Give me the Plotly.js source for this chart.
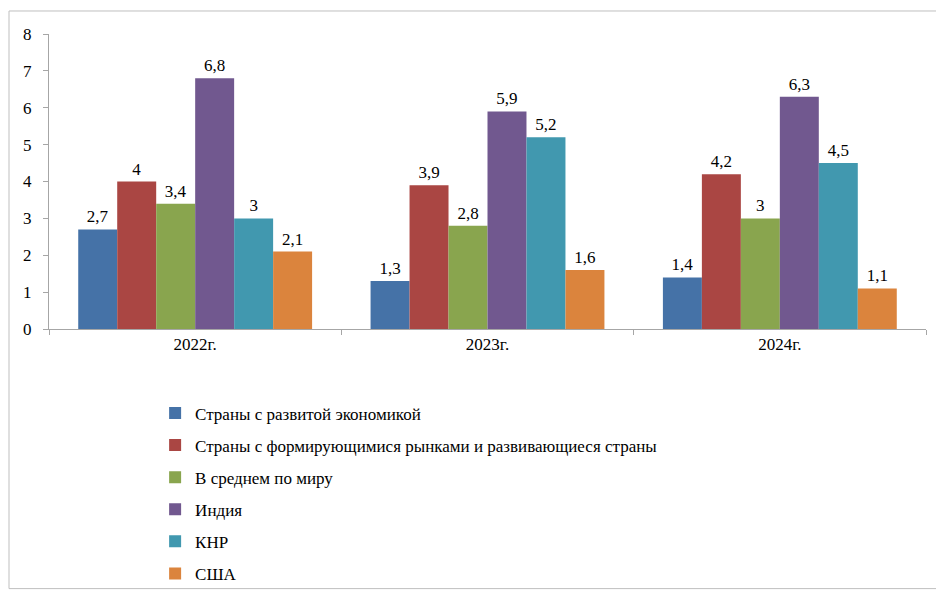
<!DOCTYPE html>
<html><head><meta charset="utf-8">
<script src="https://cdn.plot.ly/plotly-3.0.1.min.js"></script>
<style>html,body{margin:0;padding:0;background:#fff;}#chart{width:936px;height:591px;}</style>
</head><body><div id="chart"></div>
<script>
const categories = ["2022г.", "2023г.", "2024г."];
const seriesNames = [
  "Страны с развитой экономикой",
  "Страны с формирующимися рынками и развивающиеся страны",
  "В среднем по миру",
  "Индия",
  "КНР",
  "США"
];
const developed = [2.7, 1.3, 1.4];
const emerging = [4.0, 3.9, 4.2];
const world = [3.4, 2.8, 3.0];
const india = [6.8, 5.9, 6.3];
const china = [3.0, 5.2, 4.5];
const usa = [2.1, 1.6, 1.1];
const colors = ["#4572A7", "#AA4643", "#89A54E", "#71588F", "#4198AF", "#DB843D"];

const values = [developed, emerging, world, india, china, usa];
const font = "Liberation Serif";

const traces = values.map((v, i) => ({
  type: "bar",
  name: seriesNames[i],
  x: categories,
  y: v,
  marker: {color: colors[i]},
  text: v.map(n => String(n).replace(".", ",")),
  texttemplate: "%{text}",
  textposition: "outside",
  textfont: {family: font, size: 17, color: "#000"},
  constraintext: "none",
  cliponaxis: false,
  legendgroup: "g" + i,
  hoverinfo: "none"
}));

const layout = {
  width: 936, height: 591,
  margin: {l: 49, r: 10, t: 34, b: 262, autoexpand: false},
  paper_bgcolor: "#fff", plot_bgcolor: "#fff",
  font: {family: font, size: 17, color: "#000"},
  barmode: "group",
  bargap: 0.2,
  bargroupgap: 0,
  separators: ", ",
  showlegend: true,
  legend: {
    x: 0.121, y: -0.225, xanchor: "left", yanchor: "top",
    orientation: "v", traceorder: "grouped", tracegroupgap: 7,
    bgcolor: "rgba(0,0,0,0)",
    font: {family: font, size: 17, color: "#000"},
    itemwidth: 30
  },
  xaxis: {
    type: "category",
    showline: true, linecolor: "#a6a6a6", linewidth: 1,
    ticks: "outside", tickson: "boundaries", ticklen: 5, tickcolor: "#a6a6a6",
    showgrid: false, zeroline: false,
    tickfont: {family: font, size: 17, color: "#000"}
  },
  yaxis: {
    range: [0, 8], dtick: 1, tick0: 0,
    showline: true, linecolor: "#a6a6a6", linewidth: 1,
    ticks: "outside", ticklen: 5, tickcolor: "#a6a6a6",
    showgrid: false, zeroline: false,
    tickfont: {family: font, size: 17, color: "#000"},
    ticklabelstandoff: 8
  },
  shapes: [{
    type: "rect", xref: "paper", yref: "paper",
    x0: -0.0456, x1: 1.2, y0: -0.88, y1: 1.078,
    line: {color: "#bfbfbf", width: 1}, fillcolor: "rgba(0,0,0,0)", layer: "below"
  }]
};

Plotly.newPlot("chart", traces, layout, {displayModeBar: false, staticPlot: true}).then(() => {
  document.querySelectorAll('#chart text').forEach(el => {
    const s = el.getAttribute('style') || '';
    const m = s.match(/font-size:\s*([\d.]+)px/);
    const size = m ? m[1] : '17';
    el.setAttribute('style', "font-family:'Liberation Serif';font-size:" + size + "px;fill:#000");
  });
});
</script>
</body></html>
